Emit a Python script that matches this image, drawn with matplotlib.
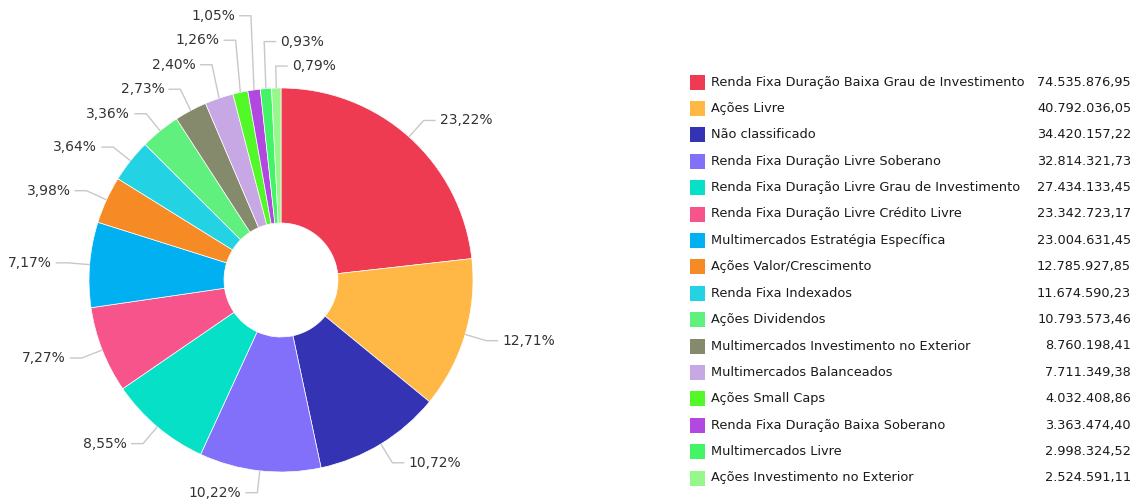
import numpy as np
import matplotlib.pyplot as plt
from matplotlib.patches import Rectangle

# =========================
# DATA
# =========================

categories = [
    "Renda Fixa Duração Baixa Grau de Investimento",
    "Ações Livre",
    "Não classificado",
    "Renda Fixa Duração Livre Soberano",
    "Renda Fixa Duração Livre Grau de Investimento",
    "Renda Fixa Duração Livre Crédito Livre",
    "Multimercados Estratégia Específica",
    "Ações Valor/Crescimento",
    "Renda Fixa Indexados",
    "Ações Dividendos",
    "Multimercados Investimento no Exterior",
    "Multimercados Balanceados",
    "Ações Small Caps",
    "Renda Fixa Duração Baixa Soberano",
    "Multimercados Livre",
    "Ações Investimento no Exterior",
]

values = [
    74535876.95, 40792036.05, 34420157.22, 32814321.73,
    27434133.45, 23342723.17, 23004631.45, 12785927.85,
    11674590.23, 10793573.46, 8760198.41, 7711349.38,
    4032408.86, 3363474.40, 2998324.52, 2524591.11,
]

colors = [
    "#EE3B52", "#FFB845", "#3333B3", "#8370FA",
    "#06E0C6", "#F7548C", "#00B0F0", "#F68B26",
    "#24D3E3", "#60F07E", "#858A6C", "#C8A8E4",
    "#52F827", "#B148E0", "#42F466", "#96F88A",
]


def br(v, dec=2):
    s = f"{v:,.{dec}f}"
    return s.replace(",", "X").replace(".", ",").replace("X", ".")


# =========================
# FIGURE (pixel coords)
# =========================

W, H = 1132, 503
fig = plt.figure(figsize=(W / 100, H / 100), dpi=100)
ax = fig.add_axes([0, 0, 1, 1])

cx, cy = 281, 280
r = 192
hole = 57

wedges, _ = ax.pie(
    values,
    colors=colors,
    startangle=-90,
    counterclock=True,
    radius=r,
    center=(cx, cy),
    wedgeprops=dict(width=r - hole, edgecolor="white", linewidth=0.5),
)

ax.set_xlim(0, W)
ax.set_ylim(H, 0)
ax.set_aspect("equal")
ax.axis("off")

# =========================
# PIE LABELS
# =========================

total = sum(values)
fracs = np.array(values) / total
mids = np.cumsum(fracs) - fracs / 2

labels = []
for i, w in enumerate(wedges):
    th = np.radians((w.theta1 + w.theta2) / 2)
    ex, ey = cx + r * np.cos(th), cy + r * np.sin(th)
    kx, ky = cx + (r + 22) * np.cos(th), cy + (r + 22) * np.sin(th)
    side = 1 if (mids[i] < 0.5 or mids[i] > 0.985) else -1
    pos = mids[i] - 1 if mids[i] > 0.985 else mids[i]
    labels.append(dict(i=i, ex=ex, ey=ey, kx=kx, ky=ky, side=side, pos=pos))

# push overlapping labels upwards, starting from the bottom of each side
gap = 24.5
for side in (1, -1):
    grp = [l for l in labels if l["side"] == side]
    grp.sort(key=lambda l: -side * l["pos"])
    prev = None
    for l in grp:
        y = l["ky"]
        if prev is not None:
            y = min(y, prev - gap)
        l["ty"] = y
        prev = y

for l in labels:
    s = l["side"]
    hx = l["kx"] + s * 12
    ax.plot([l["ex"], l["kx"], hx], [l["ey"], l["ty"], l["ty"]],
            color="#c8c8c8", lw=1, solid_capstyle="butt", zorder=1)
    ax.text(hx + s * 4, l["ty"], br(fracs[l["i"]] * 100) + "%",
            ha="left" if s > 0 else "right", va="center",
            fontsize=10, color="#333333")

# =========================
# LEGEND
# =========================

y0, step = 82, 26.4
for k, (name, v, c) in enumerate(zip(categories, values, colors)):
    y = y0 + k * step
    ax.add_patch(Rectangle((690, y - 7.5), 15, 15, color=c, lw=0))
    ax.text(711, y, name, ha="left", va="center", fontsize=9.3, color="#1a1a1a")
    ax.text(1131, y, br(v), ha="right", va="center", fontsize=9.3, color="#1a1a1a")

plt.savefig("out.png", dpi=100)
plt.close()
